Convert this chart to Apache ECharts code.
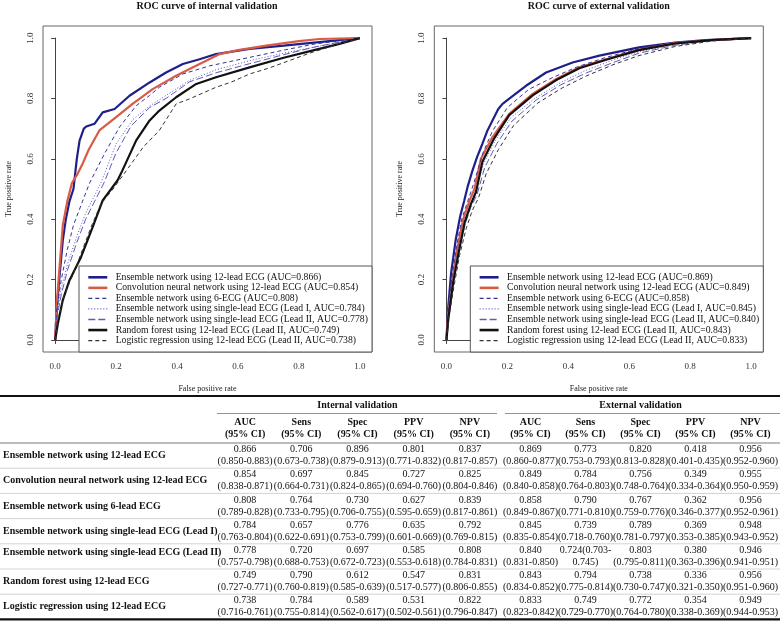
<!DOCTYPE html>
<html><head><meta charset="utf-8">
<script src="https://cdn.jsdelivr.net/npm/echarts@6/dist/echarts.min.js"></script>
<style>html,body{margin:0;padding:0;background:#fff}#c{width:780px;height:623px}</style>
</head><body><div id="c"></div>
<script>
// ---------- ROC curve data: [false positive rate, true positive rate] ----------
// Internal validation
const intEns12 = [[0,0],[0.005,0.1],[0.015,0.22],[0.025,0.33],[0.035,0.4],[0.047,0.46],[0.06,0.5],[0.071,0.6],[0.08,0.66],[0.094,0.7],[0.102,0.707],[0.129,0.716],[0.156,0.754],[0.195,0.765],[0.244,0.809],[0.31,0.853],[0.364,0.886],[0.419,0.914],[0.474,0.93],[0.528,0.947],[0.638,0.964],[0.75,0.975],[0.85,0.985],[0.9,0.99],[1,1]];
const intCnn12 = [[0,0],[0.005,0.12],[0.015,0.25],[0.025,0.38],[0.04,0.46],[0.055,0.52],[0.074,0.551],[0.09,0.584],[0.11,0.63],[0.145,0.694],[0.2,0.738],[0.254,0.782],[0.32,0.831],[0.397,0.875],[0.474,0.914],[0.54,0.947],[0.6,0.96],[0.693,0.975],[0.8,0.99],[0.868,0.997],[1,1]];
const intEns6 = [[0,0],[0.005,0.1],[0.02,0.2],[0.04,0.3],[0.06,0.38],[0.09,0.46],[0.113,0.52],[0.162,0.617],[0.211,0.705],[0.266,0.776],[0.31,0.81],[0.342,0.837],[0.419,0.881],[0.507,0.908],[0.638,0.936],[0.75,0.96],[0.85,0.98],[1,1]];
const intLead1 = [[0,0],[0.005,0.08],[0.02,0.17],[0.04,0.25],[0.07,0.34],[0.1,0.42],[0.13,0.48],[0.15,0.52],[0.2,0.65],[0.255,0.73],[0.31,0.775],[0.364,0.81],[0.441,0.86],[0.528,0.895],[0.638,0.925],[0.75,0.95],[0.85,0.97],[1,1]];
const intLead2 = [[0,0],[0.005,0.07],[0.02,0.15],[0.04,0.23],[0.07,0.32],[0.1,0.4],[0.13,0.46],[0.16,0.52],[0.2,0.62],[0.25,0.71],[0.31,0.77],[0.364,0.8],[0.441,0.855],[0.528,0.885],[0.638,0.915],[0.75,0.945],[0.85,0.97],[1,1]];
const intRf = [[0,0],[0.009,0.055],[0.025,0.132],[0.047,0.198],[0.085,0.275],[0.123,0.374],[0.156,0.4625],[0.205,0.529],[0.22,0.56],[0.266,0.661],[0.31,0.727],[0.342,0.76],[0.397,0.804],[0.463,0.848],[0.528,0.87],[0.638,0.903],[0.75,0.935],[0.85,0.96],[0.93,0.98],[1,1]];
const intLr = [[0,0],[0.01,0.07],[0.03,0.15],[0.06,0.22],[0.09,0.3],[0.12,0.38],[0.15,0.45],[0.19,0.5],[0.24,0.57],[0.29,0.64],[0.342,0.694],[0.397,0.782],[0.44,0.798],[0.528,0.837],[0.58,0.855],[0.638,0.881],[0.7,0.9],[0.835,0.95],[0.93,0.98],[1,1]];
// External validation
const extEns12 = [[0,0],[0.005,0.1],[0.015,0.22],[0.03,0.33],[0.045,0.41],[0.058,0.46],[0.069,0.506],[0.085,0.56],[0.1,0.605],[0.118,0.65],[0.135,0.695],[0.151,0.727],[0.17,0.765],[0.184,0.782],[0.22,0.81],[0.261,0.842],[0.327,0.886],[0.414,0.919],[0.502,0.942],[0.632,0.969],[0.75,0.985],[0.85,0.993],[1,1]];
const extCnn12 = [[0,0],[0.005,0.08],[0.02,0.2],[0.035,0.3],[0.055,0.4],[0.075,0.46],[0.092,0.5],[0.113,0.6],[0.151,0.672],[0.206,0.749],[0.283,0.815],[0.359,0.864],[0.436,0.903],[0.524,0.93],[0.632,0.962],[0.75,0.983],[0.87,0.993],[1,1]];
const extEns6 = [[0,0],[0.005,0.09],[0.018,0.21],[0.033,0.31],[0.05,0.4],[0.07,0.46],[0.09,0.52],[0.12,0.62],[0.15,0.69],[0.2,0.77],[0.27,0.83],[0.35,0.87],[0.43,0.905],[0.52,0.935],[0.632,0.965],[0.75,0.983],[0.87,0.993],[1,1]];
const extLead1 = [[0,0],[0.006,0.08],[0.02,0.2],[0.037,0.3],[0.057,0.39],[0.078,0.45],[0.095,0.49],[0.12,0.58],[0.16,0.66],[0.21,0.735],[0.29,0.8],[0.37,0.85],[0.45,0.89],[0.54,0.925],[0.632,0.955],[0.75,0.978],[0.87,0.992],[1,1]];
const extLead2 = [[0,0],[0.006,0.075],[0.022,0.19],[0.04,0.29],[0.06,0.38],[0.08,0.44],[0.1,0.48],[0.125,0.57],[0.165,0.65],[0.215,0.725],[0.295,0.795],[0.375,0.845],[0.46,0.885],[0.55,0.92],[0.632,0.95],[0.75,0.976],[0.87,0.992],[1,1]];
const extRf = [[0,0],[0.006,0.07],[0.022,0.19],[0.04,0.29],[0.06,0.39],[0.08,0.45],[0.097,0.49],[0.118,0.59],[0.155,0.665],[0.206,0.745],[0.283,0.81],[0.359,0.86],[0.436,0.9],[0.524,0.928],[0.632,0.96],[0.75,0.982],[0.87,0.993],[1,1]];
const extLr = [[0,0],[0.007,0.07],[0.025,0.18],[0.043,0.28],[0.065,0.37],[0.085,0.43],[0.105,0.47],[0.13,0.55],[0.17,0.63],[0.22,0.71],[0.3,0.785],[0.38,0.835],[0.46,0.875],[0.55,0.913],[0.632,0.942],[0.75,0.972],[0.87,0.99],[1,1]];

const intLegend = ['Ensemble network using 12-lead ECG (AUC=0.866)','Convolution neural network using 12-lead ECG (AUC=0.854)','Ensemble network using 6-ECG (AUC=0.808)','Ensemble network using single-lead ECG (Lead I, AUC=0.784)','Ensemble network using single-lead ECG (Lead II, AUC=0.778)','Random forest using 12-lead ECG (Lead II, AUC=0.749)','Logistic regression using 12-lead ECG (Lead II, AUC=0.738)'];
const extLegend = ['Ensemble network using 12-lead ECG (AUC=0.869)','Convolution neural network using 12-lead ECG (AUC=0.849)','Ensemble network using 6-ECG (AUC=0.858)','Ensemble network using single-lead ECG (Lead I, AUC=0.845)','Ensemble network using single-lead ECG (Lead II, AUC=0.840)','Random forest using 12-lead ECG (Lead II, AUC=0.843)','Logistic regression using 12-lead ECG (Lead II, AUC=0.833)'];

// ---------- Table data ----------
const rowLabels = ['Ensemble network using 12-lead ECG','Convolution neural network using 12-lead ECG','Ensemble network using 6-lead ECG','Ensemble network using single-lead ECG (Lead I)','Ensemble network using single-lead ECG (Lead II)','Random forest using 12-lead ECG','Logistic regression using 12-lead ECG'];
const metricHeads = ['AUC','Sens','Spec','PPV','NPV'];
const intAUC = ['0.866','0.854','0.808','0.784','0.778','0.749','0.738'];
const intAUCci = ['0.850-0.883','0.838-0.871','0.789-0.828','0.763-0.804','0.757-0.798','0.727-0.771','0.716-0.761'];
const intSens = ['0.706','0.697','0.764','0.657','0.720','0.790','0.784'];
const intSensCi = ['0.673-0.738','0.664-0.731','0.733-0.795','0.622-0.691','0.688-0.753','0.760-0.819','0.755-0.814'];
const intSpec = ['0.896','0.845','0.730','0.776','0.697','0.612','0.589'];
const intSpecCi = ['0.879-0.913','0.824-0.865','0.706-0.755','0.753-0.799','0.672-0.723','0.585-0.639','0.562-0.617'];
const intPPV = ['0.801','0.727','0.627','0.635','0.585','0.547','0.531'];
const intPPVci = ['0.771-0.832','0.694-0.760','0.595-0.659','0.601-0.669','0.553-0.618','0.517-0.577','0.502-0.561'];
const intNPV = ['0.837','0.825','0.839','0.792','0.808','0.831','0.822'];
const intNPVci = ['0.817-0.857','0.804-0.846','0.817-0.861','0.769-0.815','0.784-0.831','0.806-0.855','0.796-0.847'];
const extAUC = ['0.869','0.849','0.858','0.845','0.840','0.843','0.833'];
const extAUCci = ['0.860-0.877','0.840-0.858','0.849-0.867','0.835-0.854','0.831-0.850','0.834-0.852','0.823-0.842'];
const extSens = ['0.773','0.784','0.790','0.739','0.724','0.794','0.749'];
const extSensCi = ['0.753-0.793','0.764-0.803','0.771-0.810','0.718-0.760','0.703-0.745','0.775-0.814','0.729-0.770'];
const extSpec = ['0.820','0.756','0.767','0.789','0.803','0.738','0.772'];
const extSpecCi = ['0.813-0.828','0.748-0.764','0.759-0.776','0.781-0.797','0.795-0.811','0.730-0.747','0.764-0.780'];
const extPPV = ['0.418','0.349','0.362','0.369','0.380','0.336','0.354'];
const extPPVci = ['0.401-0.435','0.334-0.364','0.346-0.377','0.353-0.385','0.363-0.396','0.321-0.350','0.338-0.369'];
const extNPV = ['0.956','0.955','0.956','0.948','0.946','0.956','0.949'];
const extNPVci = ['0.952-0.960','0.950-0.959','0.952-0.961','0.943-0.952','0.941-0.951','0.951-0.960','0.944-0.953'];

// ---------- Styles ----------
const FONT = 'Liberation Serif';
const curveStyles = [
  {color:'#1f1f8a', width:2.2, type:'solid'},
  {color:'#d95b45', width:2.2, type:'solid'},
  {color:'#34349c', width:1, type:[4,3]},
  {color:'#5656c8', width:1, type:[1,2]},
  {color:'#5b5bb8', width:1, type:[7,3]},
  {color:'#111111', width:2.2, type:'solid'},
  {color:'#333333', width:1, type:[4,3]}
];
const panels = [
  {title:'ROC curve of internal validation', box:{x:43, y:26, w:329, h:326}, curves:[intEns12,intCnn12,intEns6,intLead1,intLead2,intRf,intLr], names:intLegend},
  {title:'ROC curve of external validation', box:{x:434.3, y:26, w:329, h:326}, curves:[extEns12,extCnn12,extEns6,extLead1,extLead2,extRf,extLr], names:extLegend}
];

const grids=[], xAxes=[], yAxes=[], series=[], titles=[], graphics=[];
panels.forEach((p,i)=>{
  const ux = p.box.w/1.08, uy = p.box.h/1.08;
  grids.push({left:p.box.x+0.04*ux, top:p.box.y+0.04*uy, width:ux, height:uy});
  const common = {min:0, max:1, interval:0.2, gridIndex:i,
    axisLine:{show:true, lineStyle:{color:'#444', width:1}},
    axisTick:{show:true, length:4, lineStyle:{color:'#444'}},
    splitLine:{show:false},
    nameTextStyle:{fontFamily:FONT, fontSize:8, color:'#222'}};
  xAxes.push(Object.assign({}, common, {type:'value', position:'bottom', offset:0.04*uy,
    axisLabel:{fontFamily:FONT, fontSize:9, color:'#333', margin:10, formatter:v=>v.toFixed(1)},
    name:'False positive rate', nameLocation:'middle', nameGap:32.5}));
  yAxes.push(Object.assign({}, common, {type:'value', position:'left', offset:0.04*ux,
    axisLabel:{fontFamily:FONT, fontSize:9, color:'#333', margin:8, rotate:90, formatter:v=>v.toFixed(1)},
    name:'True positive rate', nameLocation:'middle', nameGap:30}));
  p.curves.forEach((d,k)=>{
    const s = curveStyles[k];
    series.push({type:'line', name:p.names[k], xAxisIndex:i, yAxisIndex:i, data:d, symbol:'none',
      showSymbol:false, silent:true, animation:false, z:2,
      lineStyle:{color:s.color, width:s.width, type:s.type}, itemStyle:{color:s.color}});
  });
  titles.push({text:p.title, left:p.box.x+p.box.w*0.5+(i===0?-0.5:0), top:1, textAlign:'center', padding:0,
    textStyle:{fontFamily:FONT, fontSize:10, fontWeight:'bold', color:'#111'}});
  // plot frame
  graphics.push({type:'rect', shape:{x:p.box.x, y:p.box.y, width:p.box.w, height:p.box.h}, style:{fill:null, stroke:'#666', lineWidth:1}, silent:true, z:1});
  // legend (R-style box with line keys)
  const lx = p.box.x + 36, ly = p.box.y + 240;
  graphics.push({type:'rect', shape:{x:lx, y:ly, width:p.box.x+p.box.w-lx, height:p.box.y+p.box.h-ly}, style:{fill:'#fff', stroke:'#555', lineWidth:1}, silent:true, z:3});
  p.names.forEach((nm,k)=>{
    const s = curveStyles[k], yy = ly + 11.3 + k*10.55;
    graphics.push({type:'line', shape:{x1:lx+9.3, y1:yy, x2:lx+28.3, y2:yy}, silent:true, z:4,
      style:{stroke:s.color, lineWidth:s.width===1?1.3:2.6, lineDash:s.type==='solid'?null:s.type}});
    graphics.push({type:'text', x:lx+36.7, y:yy, silent:true, z:4,
      style:{text:nm, fill:'#111', font:'9.7px "'+FONT+'"', align:'left', verticalAlign:'middle', textAlign:'left', textVerticalAlign:'middle'}});
  });
});

// ---------- Table (drawn as text elements) ----------
const tTop = 396, hdrLine = 443, rowH = 25.2, nRows = rowLabels.length;
const intCols = {x0:217, w:56.2}, extCols = {x0:503, w:55};
const colCenter = (c,j)=>c.x0 + c.w*(j+0.5);
const txt = (s,x,y,opt={})=>graphics.push({type:'text', x, y, silent:true, z:6,
  style:{text:s, fill:'#111', font:(opt.bold?'bold ':'')+(opt.size||10)+'px "'+FONT+'"', align:opt.align||'center', verticalAlign:'middle', textAlign:opt.align||'center', textVerticalAlign:'middle'}});
const hline = (x1,x2,y,color,w)=>graphics.push({type:'line', shape:{x1,y1:y,x2,y2:y}, style:{stroke:color, lineWidth:w}, silent:true, z:6});

hline(0,780,tTop,'#111',2.2);
txt('Internal validation', intCols.x0+intCols.w*2.5, 405, {bold:true});
txt('External validation', extCols.x0+extCols.w*2.5, 405, {bold:true});
hline(intCols.x0, intCols.x0+intCols.w*5-1, 413.5, '#777', 0.8);
hline(extCols.x0+2, 780, 413.5, '#777', 0.8);
metricHeads.forEach((m,j)=>{
  [intCols, extCols].forEach(c=>{
    txt(m, colCenter(c,j), 422, {bold:true});
    txt('(95% CI)', colCenter(c,j), 434, {bold:true});
  });
});
hline(0,780,hdrLine,'#555',0.8);
const intVals = [intAUC,intSens,intSpec,intPPV,intNPV], intCis = [intAUCci,intSensCi,intSpecCi,intPPVci,intNPVci];
const extVals = [extAUC,extSens,extSpec,extPPV,extNPV], extCis = [extAUCci,extSensCi,extSpecCi,extPPVci,extNPVci];
rowLabels.forEach((lab,r)=>{
  const cy = hdrLine + rowH*(r+0.5);
  const isLead2 = lab.endsWith('(Lead II)');
  txt(lab, 3, isLead2 ? cy-4 : cy, {bold:true, align:'left'});
  [[intCols,intVals,intCis],[extCols,extVals,extCis]].forEach(([c,vals,cis])=>{
    vals.forEach((arr,j)=>{
      let top = arr[r], bot = '(' + cis[j][r] + ')';
      // the narrow external Sens cell of the Lead II row wraps its text
      if (c===extCols && j===1 && isLead2) { const ci = cis[j][r].split('-'); top = arr[r]+'('+ci[0]+'-'; bot = ci[1]+')'; }
      txt(top, colCenter(c,j), cy-6);
      txt(bot, colCenter(c,j), cy+6);
    });
  });
  if (r<nRows-1) hline(0,780,hdrLine+rowH*(r+1),'#c8c8c8',0.8);
});
hline(0,780,hdrLine+rowH*nRows,'#111',2.2);

const chart = echarts.init(document.getElementById('c'), null, {renderer:'canvas'});
chart.setOption({
  animation:false, backgroundColor:'#fff',
  title:titles, grid:grids, xAxis:xAxes, yAxis:yAxes, series, graphic:graphics
});
</script></body></html>
